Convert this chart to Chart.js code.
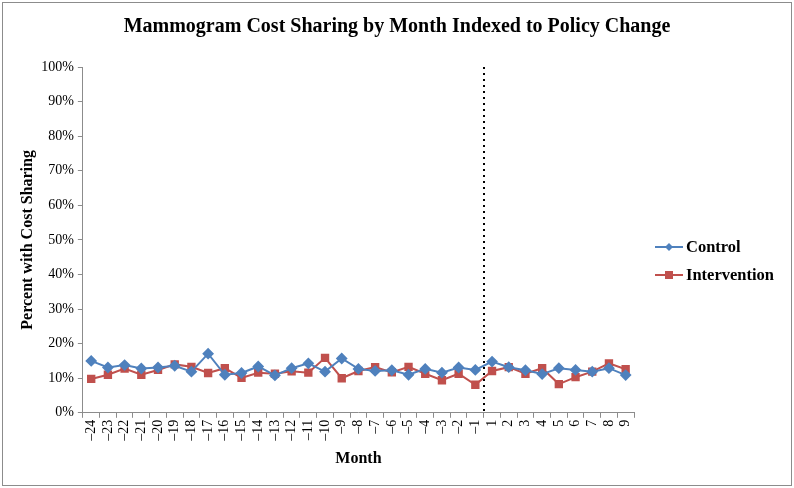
<!DOCTYPE html>
<html>
<head>
<meta charset="utf-8">
<script src="https://cdn.jsdelivr.net/npm/chart.js@4"></script>
<style>
    html, body { margin: 0; padding: 0; background: #fff; }
    #wrap { position: relative; width: 794px; height: 488px; }
</style>
</head>
<body>
<div id="wrap"><canvas id="grafico" width="794" height="488"></canvas></div>
<script>
// months indexed to policy change (no month 0)
const meses = ['–24', '–23', '–22', '–21', '–20', '–19', '–18', '–17', '–16', '–15', '–14', '–13',
    '–12', '–11', '–10', '–9', '–8', '–7', '–6', '–5', '–4', '–3', '–2', '–1',
    '1', '2', '3', '4', '5', '6', '7', '8', '9'];

const controle = [15.0, 13.1, 13.8, 12.8, 13.1, 13.6, 11.9, 17.1, 11.0, 11.5, 13.4, 10.8,
    12.9, 14.3, 11.9, 15.7, 12.7, 12.1, 12.3, 11.0, 12.7, 11.6, 13.1, 12.4,
    14.8, 13.2, 12.3, 11.2, 12.9, 12.4, 11.9, 12.9, 10.9];

const intervencao = [9.8, 11.0, 12.8, 11.0, 12.4, 14.0, 13.3, 11.5, 12.9, 10.1, 11.6, 11.3,
    12.0, 11.6, 15.9, 10.0, 12.1, 13.2, 11.7, 13.3, 11.3, 9.4, 11.3, 8.1,
    12.1, 13.2, 11.3, 12.9, 8.3, 10.3, 11.9, 14.3, 12.6];

const ticksY = [0, 10, 20, 30, 40, 50, 60, 70, 80, 90, 100];

const titulo = 'Mammogram Cost Sharing by Month Indexed to Policy Change';

// index after which the policy changes
const indiceMudanca = 23;

const fonte = '"Liberation Serif", "Times New Roman", serif';
const azul = '#4F81BD';
const vermelho = '#C0504D';

// border, title, dotted line and legend
const extras = {
    id: 'extras',
    beforeDraw(chart) {
        const ctx = chart.ctx;
        ctx.save();
        ctx.strokeStyle = '#8c8c8c';
        ctx.lineWidth = 1;
        ctx.strokeRect(2.5, 2.5, 789, 483);

        ctx.fillStyle = '#000';
        ctx.font = 'bold 20px ' + fonte;
        ctx.textAlign = 'center';
        ctx.textBaseline = 'middle';
        ctx.fillText(titulo, 397, 27);
        ctx.restore();
    },
    afterDatasetsDraw(chart) {
        const ctx = chart.ctx;
        const x = chart.scales.x;
        const area = chart.chartArea;
        const px = (x.getPixelForValue(indiceMudanca) + x.getPixelForValue(indiceMudanca + 1)) / 2;

        ctx.save();
        ctx.strokeStyle = '#000';
        ctx.lineWidth = 2;
        ctx.setLineDash([2, 4]);
        ctx.beginPath();
        ctx.moveTo(Math.round(px), area.top);
        ctx.lineTo(Math.round(px), area.bottom);
        ctx.stroke();
        ctx.restore();

        // legend
        const itens = chart.data.datasets;
        const lx = 655;
        let ly = 247;
        ctx.save();
        itens.forEach(ds => {
            ctx.strokeStyle = ds.borderColor;
            ctx.lineWidth = 2;
            ctx.beginPath();
            ctx.moveTo(lx, ly);
            ctx.lineTo(lx + 28, ly);
            ctx.stroke();
            ctx.fillStyle = ds.backgroundColor;
            if (ds.pointStyle === 'rectRot') {
                ctx.beginPath();
                ctx.moveTo(lx + 14, ly - 4);
                ctx.lineTo(lx + 18, ly);
                ctx.lineTo(lx + 14, ly + 4);
                ctx.lineTo(lx + 10, ly);
                ctx.closePath();
                ctx.fill();
            } else {
                ctx.fillRect(lx + 10, ly - 4, 8, 8);
            }
            ctx.fillStyle = '#000';
            ctx.font = 'bold 16.5px ' + fonte;
            ctx.textBaseline = 'middle';
            ctx.fillText(ds.label, lx + 31, ly + 1);
            ly += 28;
        });
        ctx.restore();
    }
};

document.addEventListener("DOMContentLoaded", function () {
    const canvas = document.getElementById('grafico');

    new Chart(canvas.getContext('2d'), {
        type: 'line',
        data: {
            labels: meses,
            datasets: [
                {
                    label: 'Control',
                    data: controle,
                    borderColor: azul,
                    backgroundColor: azul,
                    borderWidth: 2,
                    pointStyle: 'rectRot',
                    pointRadius: 4.5,
                    pointHoverRadius: 4.5,
                    tension: 0
                },
                {
                    label: 'Intervention',
                    data: intervencao,
                    borderColor: vermelho,
                    backgroundColor: vermelho,
                    borderWidth: 2,
                    pointStyle: 'rect',
                    pointRadius: 4.5,
                    pointHoverRadius: 4.5,
                    tension: 0
                }
            ]
        },
        options: {
            responsive: false,
            animation: false,
            layout: {
                padding: { left: 16, right: 160, top: 67, bottom: 16 }
            },
            plugins: {
                legend: { display: false },
                tooltip: { enabled: false },
                title: { display: false }
            },
            scales: {
                x: {
                    offset: true,
                    grid: {
                        offset: true,
                        drawOnChartArea: false,
                        drawTicks: true,
                        tickLength: 5,
                        color: '#8c8c8c'
                    },
                    border: { color: '#8c8c8c', width: 1 },
                    ticks: {
                        color: '#000',
                        font: { family: fonte, size: 14 },
                        minRotation: 90,
                        maxRotation: 90,
                        autoSkip: false,
                        padding: 2
                    },
                    title: {
                        display: true,
                        text: 'Month',
                        color: '#000',
                        font: { family: fonte, size: 16, weight: 'bold' },
                        padding: { top: 6 }
                    }
                },
                y: {
                    min: 0,
                    max: 100,
                    afterBuildTicks: function (axis) {
                        axis.ticks = ticksY.map(v => ({ value: v }));
                    },
                    grid: {
                        drawOnChartArea: false,
                        drawTicks: true,
                        tickLength: 5,
                        color: '#8c8c8c'
                    },
                    border: { color: '#8c8c8c', width: 1 },
                    ticks: {
                        color: '#000',
                        font: { family: fonte, size: 14 },
                        padding: 4,
                        callback: function (value) {
                            return value + '%';
                        }
                    },
                    title: {
                        display: true,
                        text: 'Percent with Cost Sharing',
                        color: '#000',
                        font: { family: fonte, size: 16, weight: 'bold' },
                        padding: { top: 2, bottom: 0 }
                    }
                }
            }
        },
        plugins: [extras]
    });
});
</script>
</body>
</html>
